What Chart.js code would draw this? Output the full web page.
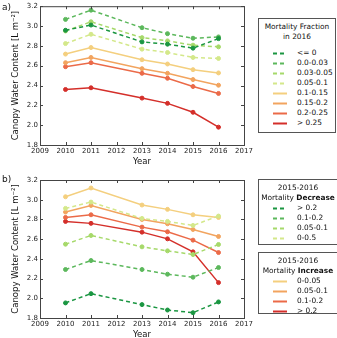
<!DOCTYPE html>
<html>
<head>
<meta charset="utf-8">
<script src="https://cdn.jsdelivr.net/npm/chart.js@4.4.1/dist/chart.umd.min.js"></script>
<style>
  body { margin: 0; background: #fff; font-family: "DejaVu Sans", sans-serif; }
  #wrap { position: relative; width: 337px; height: 338px; overflow: hidden; }
  .cv { position: absolute; left: 0; }
  .plabel { position: absolute; left: 2px; font-size: 9px; color: #111; }
  .leg { position: absolute; border: 1px solid #555; background: #fff; font-size: 7.4px; color: #111; box-sizing: border-box; }
  .leg .ttl { position: absolute; left: 0; right: 0; text-align: center; white-space: nowrap; }
  .leg .row { position: absolute; left: 0; height: 10px; line-height: 10px; white-space: nowrap; }
  .leg svg { position: absolute; left: 14px; top: 4px; }
  .leg .txt { position: absolute; left: 38px; top: 0; }
</style>
</head>
<body>
<div id="wrap">
  <canvas id="chartA" class="cv" style="top:0px"></canvas>
  <canvas id="chartB" class="cv" style="top:173px"></canvas>
  <div class="plabel" style="top:2px">a)</div>
  <div class="plabel" style="top:174px">b)</div>
  <div id="legA" class="leg" style="left:258px; top:18px; width:78px; height:115px"></div>
  <div id="legB1" class="leg" style="left:258px; top:179px; width:80px; height:66px"></div>
  <div id="legB2" class="leg" style="left:258px; top:252px; width:80px; height:62px"></div>
</div>
<script>
// x positions (years) and axis ticks
const years = [2010, 2011, 2013, 2014, 2015, 2016];
const xTicks = [2009, 2010, 2011, 2012, 2013, 2014, 2015, 2016, 2017];
const yTicks = [1.8, 2.0, 2.2, 2.4, 2.6, 2.8, 3.0, 3.2];

// panel a: mortality fraction in 2016
const fracLabels = ["<= 0", "0.0-0.03", "0.03-0.05", "0.05-0.1", "0.1-0.15", "0.15-0.2", "0.2-0.25", "> 0.25"];
const fracLe0   = [2.957, 3.010, 2.840, 2.817, 2.777, 2.873];
const frac0003  = [3.067, 3.160, 2.983, 2.923, 2.877, 2.890];
const frac0305  = [2.950, 3.043, 2.883, 2.850, 2.807, 2.790];
const frac0510  = [2.823, 2.917, 2.767, 2.733, 2.683, 2.673];
const frac1015  = [2.717, 2.783, 2.660, 2.617, 2.560, 2.527];
const frac1520  = [2.630, 2.683, 2.570, 2.523, 2.460, 2.403];
const frac2025  = [2.590, 2.630, 2.523, 2.473, 2.390, 2.320];
const fracGt25  = [2.360, 2.377, 2.273, 2.220, 2.130, 1.980];

// panel b: 2015-2016 mortality decrease / increase
const decLabels = ["> 0.2", "0.1-0.2", "0.05-0.1", "0-0.5"];
const decGt02   = [1.953, 2.047, 1.936, 1.881, 1.854, 1.963];
const dec0102   = [2.292, 2.383, 2.292, 2.244, 2.214, 2.312];
const dec0501   = [2.549, 2.637, 2.522, 2.481, 2.444, 2.546];
const dec0005   = [2.912, 2.976, 2.810, 2.780, 2.739, 2.834];
const incLabels = ["0-0.05", "0.05-0.1", "0.1-0.2", "> 0.2"];
const inc0005   = [3.030, 3.119, 2.946, 2.902, 2.847, 2.820];
const inc0501   = [2.875, 2.942, 2.800, 2.756, 2.698, 2.627];
const inc0102   = [2.820, 2.847, 2.722, 2.675, 2.590, 2.464];
const incGt02   = [2.780, 2.760, 2.671, 2.603, 2.471, 2.159];

const greens  = ["#1a9641", "#5cb85c", "#a6d96a", "#d4e88a"];
const oranges = ["#f4cf7e", "#f2a45f", "#eb6a48", "#d42f2a"];
const DASH = [4, 3];

function series(label, vals, color, dashed) {
  return {
    label: label,
    data: vals.map((v, i) => ({ x: years[i], y: v })),
    borderColor: color,
    backgroundColor: color,
    pointBackgroundColor: color,
    pointBorderColor: color,
    borderWidth: 1.5,
    borderDash: dashed ? DASH : [],
    pointRadius: 2,
    pointBorderWidth: 1,
    tension: 0
  };
}

// frame + inward ticks like the matplotlib original
const framePlugin = {
  id: "frame",
  afterDraw(chart) {
    const { ctx, chartArea: a, scales } = chart;
    ctx.save();
    ctx.strokeStyle = "#444";
    ctx.lineWidth = 1;
    ctx.strokeRect(a.left + 0.5, a.top + 0.5, a.right - a.left, a.bottom - a.top);
    ctx.beginPath();
    scales.y.ticks.forEach(t => {
      const py = Math.round(scales.y.getPixelForValue(t.value)) + 0.5;
      ctx.moveTo(a.left, py); ctx.lineTo(a.left + 3, py);
      ctx.moveTo(a.right, py); ctx.lineTo(a.right - 3, py);
    });
    scales.x.ticks.forEach(t => {
      const px = Math.round(scales.x.getPixelForValue(t.value)) + 0.5;
      ctx.moveTo(px, a.bottom); ctx.lineTo(px, a.bottom - 3);
      ctx.moveTo(px, a.top); ctx.lineTo(px, a.top + 3);
    });
    ctx.stroke();
    ctx.restore();
  }
};

function makeChart(id, datasets, padTop) {
  const canvas = document.getElementById(id);
  canvas.width = 337; canvas.height = 168;
  canvas.style.width = "337px"; canvas.style.height = "168px";
  return new Chart(canvas, {
    type: "line",
    data: { datasets: datasets },
    plugins: [framePlugin],
    options: {
      responsive: false,
      animation: false,
      devicePixelRatio: 1,
      layout: { padding: { left: 0, right: 93, top: padTop, bottom: 0 } },
      plugins: { legend: { display: false }, tooltip: { enabled: false } },
      scales: {
        x: {
          type: "linear", min: 2009, max: 2017,
          afterBuildTicks: s => { s.ticks = xTicks.map(v => ({ value: v })); },
          ticks: { callback: v => String(v), font: { family: "DejaVu Sans", size: 7 }, color: "#222", padding: 2, maxRotation: 0, autoSkip: false },
          grid: { display: false, drawTicks: false },
          border: { display: false },
          title: { display: true, text: "Year", font: { family: "DejaVu Sans", size: 8.5 }, color: "#111", padding: { top: 0, bottom: 1 } },
          afterFit: s => { s.height = 23; }
        },
        y: {
          min: 1.8, max: 3.2,
          afterBuildTicks: s => { s.ticks = yTicks.map(v => ({ value: v })); },
          ticks: { callback: v => v.toFixed(1), font: { family: "DejaVu Sans", size: 7 }, color: "#222", padding: 2 },
          grid: { display: false, drawTicks: false },
          border: { display: false },
          title: { display: true, text: "Canopy Water Content [L m\u207B\u00B2]", font: { family: "DejaVu Sans", size: 8.5 }, color: "#111", padding: { top: 11, bottom: 0 } },
          afterFit: s => { s.width = 40; }
        }
      }
    }
  });
}

const fracVals = [fracLe0, frac0003, frac0305, frac0510, frac1015, frac1520, frac2025, fracGt25];
const fracColors = [greens[0], greens[1], greens[2], greens[3], oranges[0], oranges[1], oranges[2], oranges[3]];
const dsA = fracVals.map((v, i) => series(fracLabels[i], v, fracColors[i], i < 4));
makeChart("chartA", dsA, 5);

const decVals = [decGt02, dec0102, dec0501, dec0005];
const incVals = [inc0005, inc0501, inc0102, incGt02];
const dsB = decVals.map((v, i) => series("Decrease " + decLabels[i], v, greens[i], true))
  .concat(incVals.map((v, i) => series("Increase " + incLabels[i], v, oranges[i], false)));
makeChart("chartB", dsB, 7);

// legends
function legend(id, titleHtml, labels, colors, dashed, rowTop) {
  const el = document.getElementById(id);
  let html = "";
  titleHtml.forEach((t, i) => { html += '<div class="ttl" style="top:' + (3 + i * 10) + 'px">' + t + '</div>'; });
  labels.forEach((lab, i) => {
    const dash = dashed[i] ? ' stroke-dasharray="4 3"' : '';
    html += '<div class="row" style="top:' + (rowTop + i * 10) + 'px">' +
      '<svg width="14" height="3"><line x1="0" y1="1.5" x2="14" y2="1.5" stroke="' + colors[i] + '" stroke-width="2"' + dash + '/></svg>' +
      '<span class="txt">' + lab + '</span></div>';
  });
  el.innerHTML = html;
}
legend("legA", ["Mortality Fraction", "in 2016"], fracLabels.map(s => s.replace("<", "&lt;").replace(">", "&gt;")), fracColors,
  fracColors.map((c, i) => i < 4), 29);
legend("legB1", ["2015-2016", "Mortality <b>Decrease</b>"], decLabels.map(s => s.replace(">", "&gt;")), greens, [true, true, true, true], 23);
legend("legB2", ["2015-2016", "Mortality <b>Increase</b>"], incLabels.map(s => s.replace(">", "&gt;")), oranges, [false, false, false, false], 23);
</script>
</body>
</html>
